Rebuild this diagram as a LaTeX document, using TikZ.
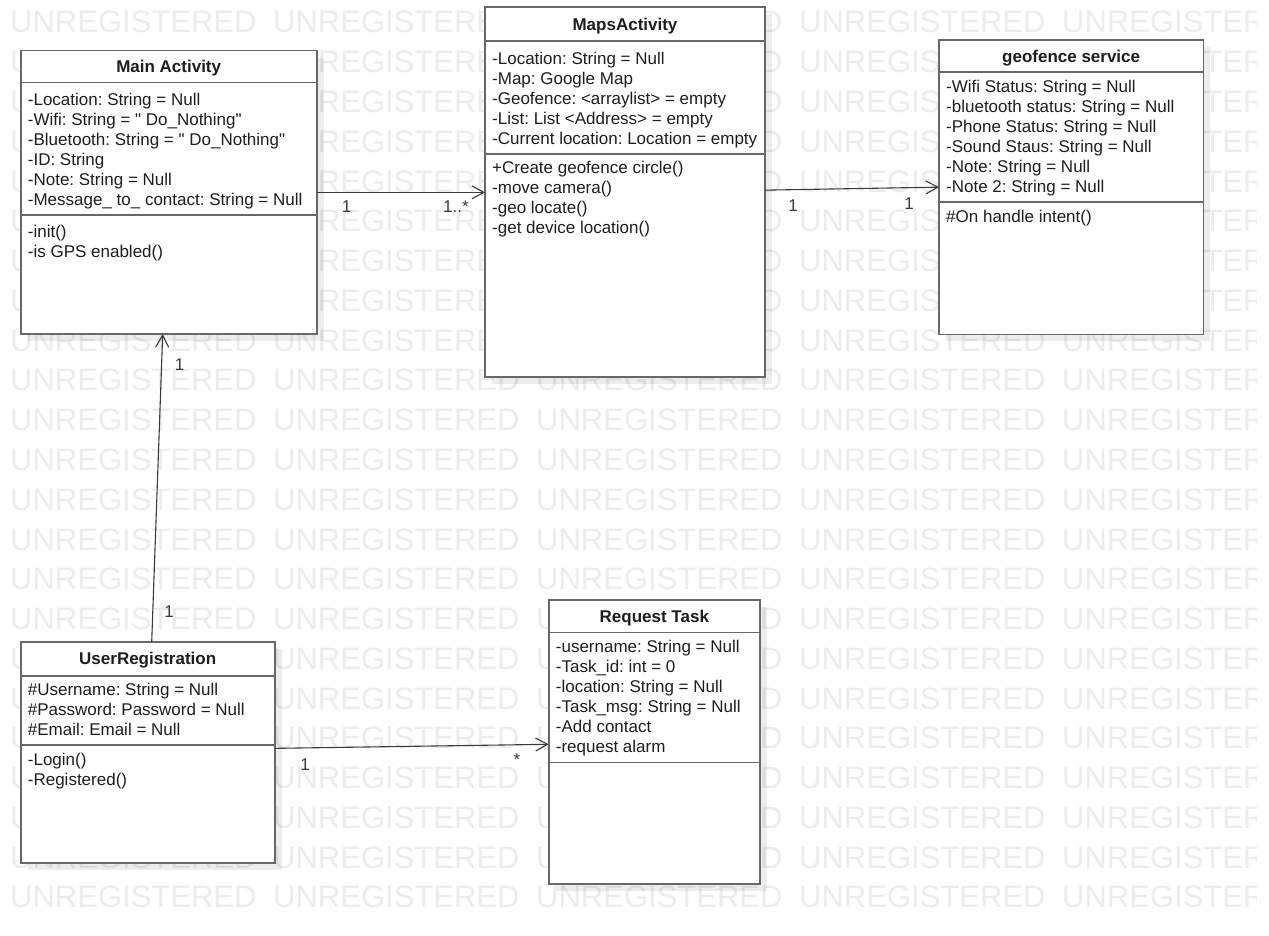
\documentclass[tikz,border=0pt]{standalone}
\usepackage{fontspec}
\setmainfont{Liberation Sans}[Ligatures=TeXOff]
\usetikzlibrary{arrows.meta,calc}
\frenchspacing

\definecolor{boxborder}{HTML}{686868}
\definecolor{inkc}{HTML}{1E1E1E}
\definecolor{linkc}{HTML}{3A3A3A}
\definecolor{wmark}{HTML}{ECECEC}

\tikzset{
  umlbox/.style={rectangle, draw=boxborder, line width=1.6pt, fill=white, inner sep=0pt, outer sep=0pt},
  sepline/.style={draw=boxborder, line width=1.6pt},
  boxshadow/.style={fill=black, opacity=0.07},
  classtitle/.style={font=\fontsize{17}{20}\selectfont\bfseries, text=inkc, inner sep=0pt, anchor=base},
  member/.style={font=\fontsize{17}{20}\selectfont, text=inkc, inner sep=0pt, anchor=base west},
  assoc/.style={draw=linkc, line width=1.1pt, -{Straight Barb[length=12pt,width=13pt]}},
  mult/.style={font=\fontsize{17}{20}\selectfont, text=linkc, inner sep=0pt, anchor=base},
  wm/.style={font=\fontsize{31}{31}\selectfont, text=wmark, inner sep=0pt, anchor=base west},
}

% #1 name, #2 left, #3 top, #4 right, #5 bottom, #6 header rule, #7 member rule, #8 title
\newcommand\umlclass[8]{%
  \fill[boxshadow] (#2+7,#3+7) rectangle (#4+7,#5+7);
  \node[umlbox, anchor=north west, minimum width={#4-(#2)}, minimum height={#5-(#3)}] (#1) at (#2,#3) {};
  \draw[sepline] (#1.west |- 0,#6) -- (#1.east |- 0,#6);
  \draw[sepline] (#1.west |- 0,#7) -- (#1.east |- 0,#7);
  \node[classtitle] (#1-title) at ({(#2+#4)/2},{(#3+#6)/2+6}) {#8};
}

% #1 node prefix, #2 left edge of the class, #3 first baseline, #4 lines
\newcommand\memberlines[4]{%
  \foreach \m [count=\i from 0] in {#4}{
    \node[member] (#1-\i) at (#2+7,#3+20*\i) {\m};
  }
}

\begin{document}
\begin{tikzpicture}[x=1pt,y=-1pt]
\useasboundingbox (0,0) rectangle (1269,936);
\fill[white] (0,0) rectangle (1269,936);

% tiled background lettering
\begin{scope}
  \clip (0,0) rectangle (1256,936);
  \foreach \r in {0,...,22}{
    \foreach \c in {0,...,4}{
      \node[wm] (wm-\r-\c) at (10+263*\c,33+39.77*\r) {UNREGISTERED};
    }
  }
\end{scope}

% classes
\umlclass{main}{20.7}{50.7}{316.7}{334}{82.7}{215}{Main Activity}
\memberlines{main-a}{20.7}{106}{-Location: String = Null,-Wifi: String = " Do\_Nothing",-Bluetooth: String = " Do\_Nothing",-ID: String,-Note: String = Null,-Message\_ to\_ contact: String = Null}
\memberlines{main-o}{20.7}{237.5}{-init(),-is GPS enabled()}

\umlclass{maps}{485}{7.3}{765}{377}{41.3}{154}{MapsActivity}
\memberlines{maps-a}{485}{64.3}{-Location: String = Null,-Map: Google Map,-Geofence: <arraylist> = empty,-List: List <Address> = empty,-Current location: Location = empty}
\memberlines{maps-o}{485}{173.3}{+Create geofence circle(),-move camera(),-geo locate(),-get device location()}

\umlclass{geo}{939}{40}{1203.3}{334.3}{72.3}{202.3}{geofence service}
\memberlines{geo-a}{939}{92.7}{-Wifi Status: String = Null,-bluetooth status: String = Null,-Phone Status: String = Null,-Sound Staus: String = Null,-Note: String = Null,-Note 2: String = Null}
\memberlines{geo-o}{939}{222.3}{\#On handle intent()}

\umlclass{user}{20.7}{642}{274.7}{862.7}{675.7}{745}{UserRegistration}
\memberlines{user-a}{20.7}{695.3}{\#Username: String = Null,\#Password: Password = Null,\#Email: Email = Null}
\memberlines{user-o}{20.7}{765.7}{-Login(),-Registered()}

\umlclass{req}{548.7}{600}{760}{884}{632.3}{762.3}{Request Task}
\memberlines{req-a}{548.7}{652.7}{-username: String = Null,-Task\_id: int = 0,-location: String = Null,-Task\_msg: String = Null,-Add contact,-request alarm}

% associations
\draw[assoc] (main.east) -- (maps.west |- main.east);
\node[mult] (m1s) at (346.7,213) {1};
\node[mult] (m1t) at (456,213) {1..*};

\draw[assoc] ([yshift=2pt]maps.east) -- (geo.west);
\node[mult] (m2s) at (793,212) {1};
\node[mult] (m2t) at (909,210) {1};

\draw[assoc] ([xshift=4pt]user.north) -- ([xshift=-6pt]main.south);
\node[mult] (m3t) at (179.5,370) {1};
\node[mult] (m3s) at (169,617) {1};

\draw[assoc] ([yshift=4pt]user.east) -- ([yshift=-2.3pt]req.west);
\node[mult] (m4s) at (305,770) {1};
\node[mult] (m4t) at (517,765) {*};
\end{tikzpicture}
\end{document}
